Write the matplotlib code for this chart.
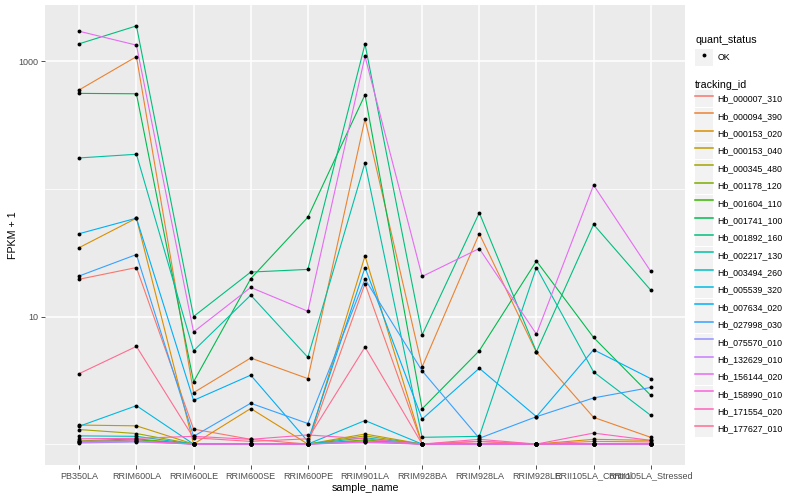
import numpy as np
import matplotlib.pyplot as plt
from matplotlib.lines import Line2D
from matplotlib.patches import Patch
from matplotlib.legend_handler import HandlerTuple

plt.rcParams['font.family'] = ['Liberation Sans', 'DejaVu Sans']

samples = ["PB350LA", "RRIM600LA", "RRIM600LE", "RRIM600SE", "RRIM600PE",
           "RRIM901LA", "RRIM928BA", "RRIM928LA", "RRIM928LE",
           "RRII105LA_Control", "RRII105LA_Stressed"]

genes = ["Hb_000007_310", "Hb_000094_390", "Hb_000153_020", "Hb_000153_040",
         "Hb_000345_480", "Hb_001178_120", "Hb_001604_110", "Hb_001741_100",
         "Hb_001892_160", "Hb_002217_130", "Hb_003494_260", "Hb_005539_320",
         "Hb_007634_020", "Hb_027998_030", "Hb_075570_010", "Hb_132629_010",
         "Hb_156144_020", "Hb_158990_010", "Hb_171554_020", "Hb_177627_010"]

# ggplot hue palette, 20 levels
colors = ["#F8766D", "#EA8331", "#D89000", "#C09B00", "#A3A500", "#7CAE00",
          "#39B600", "#00BB4E", "#00BF7D", "#00C1A3", "#00BFC4", "#00BAE0",
          "#00B0F6", "#35A2FF", "#9590FF", "#C77CFF", "#E76BF3", "#FA62DB",
          "#FF62BC", "#FF6C91"]

# FPKM per gene, one value per sample
hb_000007_310 = [18.6, 23.2, 0.31, 0.09, 0, 17.1, 0, 0.05, 0, 0, 0]
hb_000094_390 = [597, 1088, 1.53, 3.73, 2.26, 353, 3.03, 43.6, 4.24, 0.62, 0.13]
hb_000153_020 = [33.7, 58, 0, 0.9, 0, 28.9, 0, 0, 0, 0.09, 0.07]
hb_000153_040 = [0.41, 0.39, 0, 0, 0, 0.2, 0, 0, 0, 0, 0]
hb_000345_480 = [0.3, 0.21, 0, 0, 0, 0.16, 0, 0, 0, 0, 0]
hb_001178_120 = [0.06, 0.1, 0, 0, 0, 0.08, 0, 0, 0, 0, 0]
hb_001604_110 = [0.04, 0.08, 0, 0, 0, 0.06, 0, 0, 0, 0, 0]
hb_001741_100 = [560, 556, 2.08, 18.8, 59, 546, 0.89, 4.39, 26.2, 5.85, 1.41]
hb_001892_160 = [1373, 1895, 9.0, 21.3, 22.4, 1364, 6.18, 64, 4.3, 51.7, 15.1]
hb_002217_130 = [174, 186, 4.39, 13.7, 3.79, 159, 0.13, 0.15, 23.2, 2.68, 0.68]
hb_003494_260 = [0.16, 0.15, 0, 0, 0, 0.12, 0, 0, 0, 0, 0]
hb_005539_320 = [0.38, 1.0, 0, 0, 0, 0.53, 0, 0, 0, 0, 0]
hb_007634_020 = [43.6, 58, 1.2, 2.47, 0.05, 23.2, 0.57, 2.93, 0.64, 4.49, 2.26]
hb_027998_030 = [19.8, 29.6, 0.15, 1.09, 0.45, 18.6, 2.75, 0.11, 0.64, 1.3, 1.78]
hb_075570_010 = [0.02, 0.04, 0, 0, 0, 0.05, 0, 0, 0, 0, 0]
hb_132629_010 = [0.03, 0.05, 0, 0, 0, 0.04, 0, 0, 0, 0, 0]
hb_156144_020 = [1720, 1339, 6.57, 15.9, 10.0, 1093, 19.6, 33.1, 6.27, 106, 21.6]
hb_158990_010 = [0.05, 0.06, 0, 0, 0, 0.03, 0, 0, 0, 0, 0]
hb_171554_020 = [0.1, 0.11, 0.15, 0.09, 0.18, 0.1, 0, 0.09, 0, 0.22, 0.07]
hb_177627_010 = [2.57, 4.83, 0.12, 0.05, 0.1, 4.76, 0, 0.05, 0, 0.05, 0.04]

fpkm = [hb_000007_310, hb_000094_390, hb_000153_020, hb_000153_040,
        hb_000345_480, hb_001178_120, hb_001604_110, hb_001741_100,
        hb_001892_160, hb_002217_130, hb_003494_260, hb_005539_320,
        hb_007634_020, hb_027998_030, hb_075570_010, hb_132629_010,
        hb_156144_020, hb_158990_010, hb_171554_020, hb_177627_010]

fig = plt.figure(figsize=(8, 5), dpi=100)
ax = fig.add_axes([45/800, 35/500, 640/800, 460/500])
ax.set_facecolor('#EBEBEB')
for s in ax.spines.values():
    s.set_visible(False)

x = np.arange(len(samples))
for vals, c in zip(fpkm, colors):
    ax.plot(x, np.array(vals) + 1, color=c, lw=0.8, zorder=2)
for vals in fpkm:
    ax.plot(x, np.array(vals) + 1, 'o', color='black', ms=2.8, mew=0, zorder=3)

ax.set_yscale('log')
ymax = np.log10(max(max(v) for v in fpkm) + 1)
pad = ymax * 0.05
ax.set_ylim(10 ** (-pad), 10 ** (ymax + pad))
ax.set_xlim(-0.6, len(samples) - 0.4)

ax.set_yticks([10, 1000])
ax.set_yticklabels(["10", "1000"])
ax.set_yticks([1, 100], minor=True)
ax.yaxis.set_minor_formatter(plt.NullFormatter())
ax.set_xticks(x)
ax.set_xticklabels(samples)
ax.tick_params(which='major', length=2.7, width=0.6, color='#333333',
               labelsize=6.5, labelcolor='#4D4D4D', pad=2)
ax.tick_params(which='minor', length=0)
ax.grid(True, which='major', color='white', lw=1.1, zorder=1)
ax.grid(True, which='minor', axis='y', color='white', lw=0.55, zorder=1)
ax.set_axisbelow(True)

ax.set_xlabel("sample_name", fontsize=7.7, labelpad=2)
ax.set_ylabel("FPKM + 1", fontsize=7.7, labelpad=0)

key_bg = '#F2F2F2'
ok_handle = (Patch(facecolor=key_bg, edgecolor='none'),
             Line2D([], [], marker='o', color='black', ls='none', ms=2.8, mew=0))
leg1 = fig.legend([ok_handle], ["OK"], title="quant_status",
                  loc='upper left', bbox_to_anchor=(695/800, 1 - 35/500),
                  frameon=False, fontsize=6.3, title_fontsize=7.7,
                  handler_map={tuple: HandlerTuple(ndivide=1)},
                  handlelength=2.0, handleheight=2.6, handletextpad=0.6,
                  borderpad=0, borderaxespad=0, alignment='left')
handles = [(Patch(facecolor=key_bg, edgecolor='none'),
            Line2D([], [], color=c, lw=1.1)) for c in colors]
leg2 = fig.legend(handles, genes, title="tracking_id",
                  loc='upper left', bbox_to_anchor=(695/800, 1 - 80/500),
                  frameon=False, fontsize=6.3, title_fontsize=7.7,
                  handler_map={tuple: HandlerTuple(ndivide=1)},
                  handlelength=2.0, handleheight=2.6, handletextpad=0.6,
                  labelspacing=0.05, borderpad=0, borderaxespad=0,
                  alignment='left')

fig.savefig("out.png", dpi=100)
